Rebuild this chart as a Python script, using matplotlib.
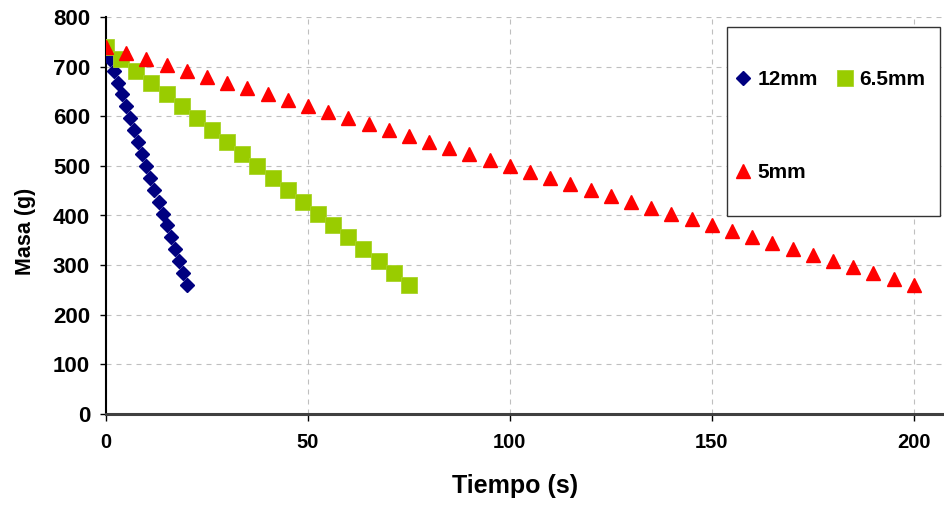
import matplotlib.pyplot as plt
from matplotlib.patches import Rectangle

# time (s) and mass (g) for each hole diameter
t_12mm = [0, 1, 2, 3, 4, 5, 6, 7, 8, 9, 10, 11, 12, 13, 14, 15, 16, 17, 18, 19, 20]
m_12mm = [740, 716, 692, 668, 644, 620, 596, 572, 548, 524, 500,
          476, 452, 428, 404, 380, 356, 332, 308, 284, 260]

t_65mm = [0, 3.75, 7.5, 11.25, 15, 18.75, 22.5, 26.25, 30, 33.75, 37.5,
          41.25, 45, 48.75, 52.5, 56.25, 60, 63.75, 67.5, 71.25, 75]
m_65mm = [740, 716, 692, 668, 644, 620, 596, 572, 548, 524, 500,
          476, 452, 428, 404, 380, 356, 332, 308, 284, 260]

t_5mm = [0, 5, 10, 15, 20, 25, 30, 35, 40, 45, 50, 55, 60, 65, 70, 75, 80,
         85, 90, 95, 100, 105, 110, 115, 120, 125, 130, 135, 140, 145, 150,
         155, 160, 165, 170, 175, 180, 185, 190, 195, 200]
m_5mm = [740, 728, 716, 704, 692, 680, 668, 656, 644, 632, 620, 608, 596,
         584, 572, 560, 548, 536, 524, 512, 500, 488, 476, 464, 452, 440,
         428, 416, 404, 392, 380, 368, 356, 344, 332, 320, 308, 296, 284,
         272, 260]

x_ticks = [0, 50, 100, 150, 200]
y_ticks = [0, 100, 200, 300, 400, 500, 600, 700, 800]

plt.rcParams["font.family"] = ["Liberation Sans", "DejaVu Sans"]
plt.rcParams["font.weight"] = "bold"

fig = plt.figure(figsize=(9.44, 5.08), dpi=100)
ax = fig.add_axes([106 / 944, 94 / 508, 1 - 106 / 944, 397 / 508])

h12, = ax.plot(t_12mm, m_12mm, ls="none", marker="D", ms=7.2,
               color="#000080", label="12mm", zorder=3)
h65, = ax.plot(t_65mm, m_65mm, ls="none", marker="s", ms=11,
               color="#99CC00", mec="#A8D428", mew=0.6, label="6.5mm", zorder=4)
h5, = ax.plot(t_5mm, m_5mm, ls="none", marker="^", ms=9.5,
              color="#FF0000", label="5mm", zorder=5)

ax.set_xlim(0, 207.5)
ax.set_ylim(0, 800)
ax.set_xticks(x_ticks)
ax.set_yticks(y_ticks)
ax.tick_params(axis="x", labelsize=14.5, length=5, width=1, pad=9, direction="out")
ax.tick_params(axis="y", labelsize=16, length=4.5, width=1, pad=7, direction="out")
for lab in ax.get_xticklabels() + ax.get_yticklabels():
    lab.set_fontweight("bold")

ax.grid(True, color="#BFBFBF", lw=0.8, ls=(0, (4.5, 4.5)))
ax.set_axisbelow(True)

for s in ("top", "right"):
    ax.spines[s].set_visible(False)
ax.spines["left"].set_color("black")
ax.spines["left"].set_linewidth(1.5)
ax.spines["bottom"].set_color("#404040")
ax.spines["bottom"].set_linewidth(2.2)

ax.set_xlabel("Tiempo (s)", fontsize=18, fontweight="bold")
ax.set_ylabel("Masa (g)", fontsize=15.5, fontweight="bold")
ax.xaxis.set_label_coords(409 / 838, -60 / 397)
ax.yaxis.set_label_coords(-70 / 838, 183 / 397)

# legend frame, drawn separately so the padding matches
fig.patches.append(Rectangle((727 / 944, 1 - 216 / 508), 213 / 944, 189 / 508,
                             transform=fig.transFigure, fill=True,
                             facecolor="white", edgecolor="#333333", lw=1,
                             zorder=10))
leg = fig.legend([h12, h5, h65], ["12mm", "5mm", "6.5mm"], ncol=2,
                 loc="upper left", bbox_to_anchor=(724 / 944, 1 - 60 / 508),
                 frameon=False, borderpad=0, handlelength=0.8,
                 handletextpad=0.3, columnspacing=0.9, labelspacing=3.55,
                 prop={"size": 15, "weight": "bold"})
leg.set_zorder(11)

fig.savefig("out.png", dpi=100)
